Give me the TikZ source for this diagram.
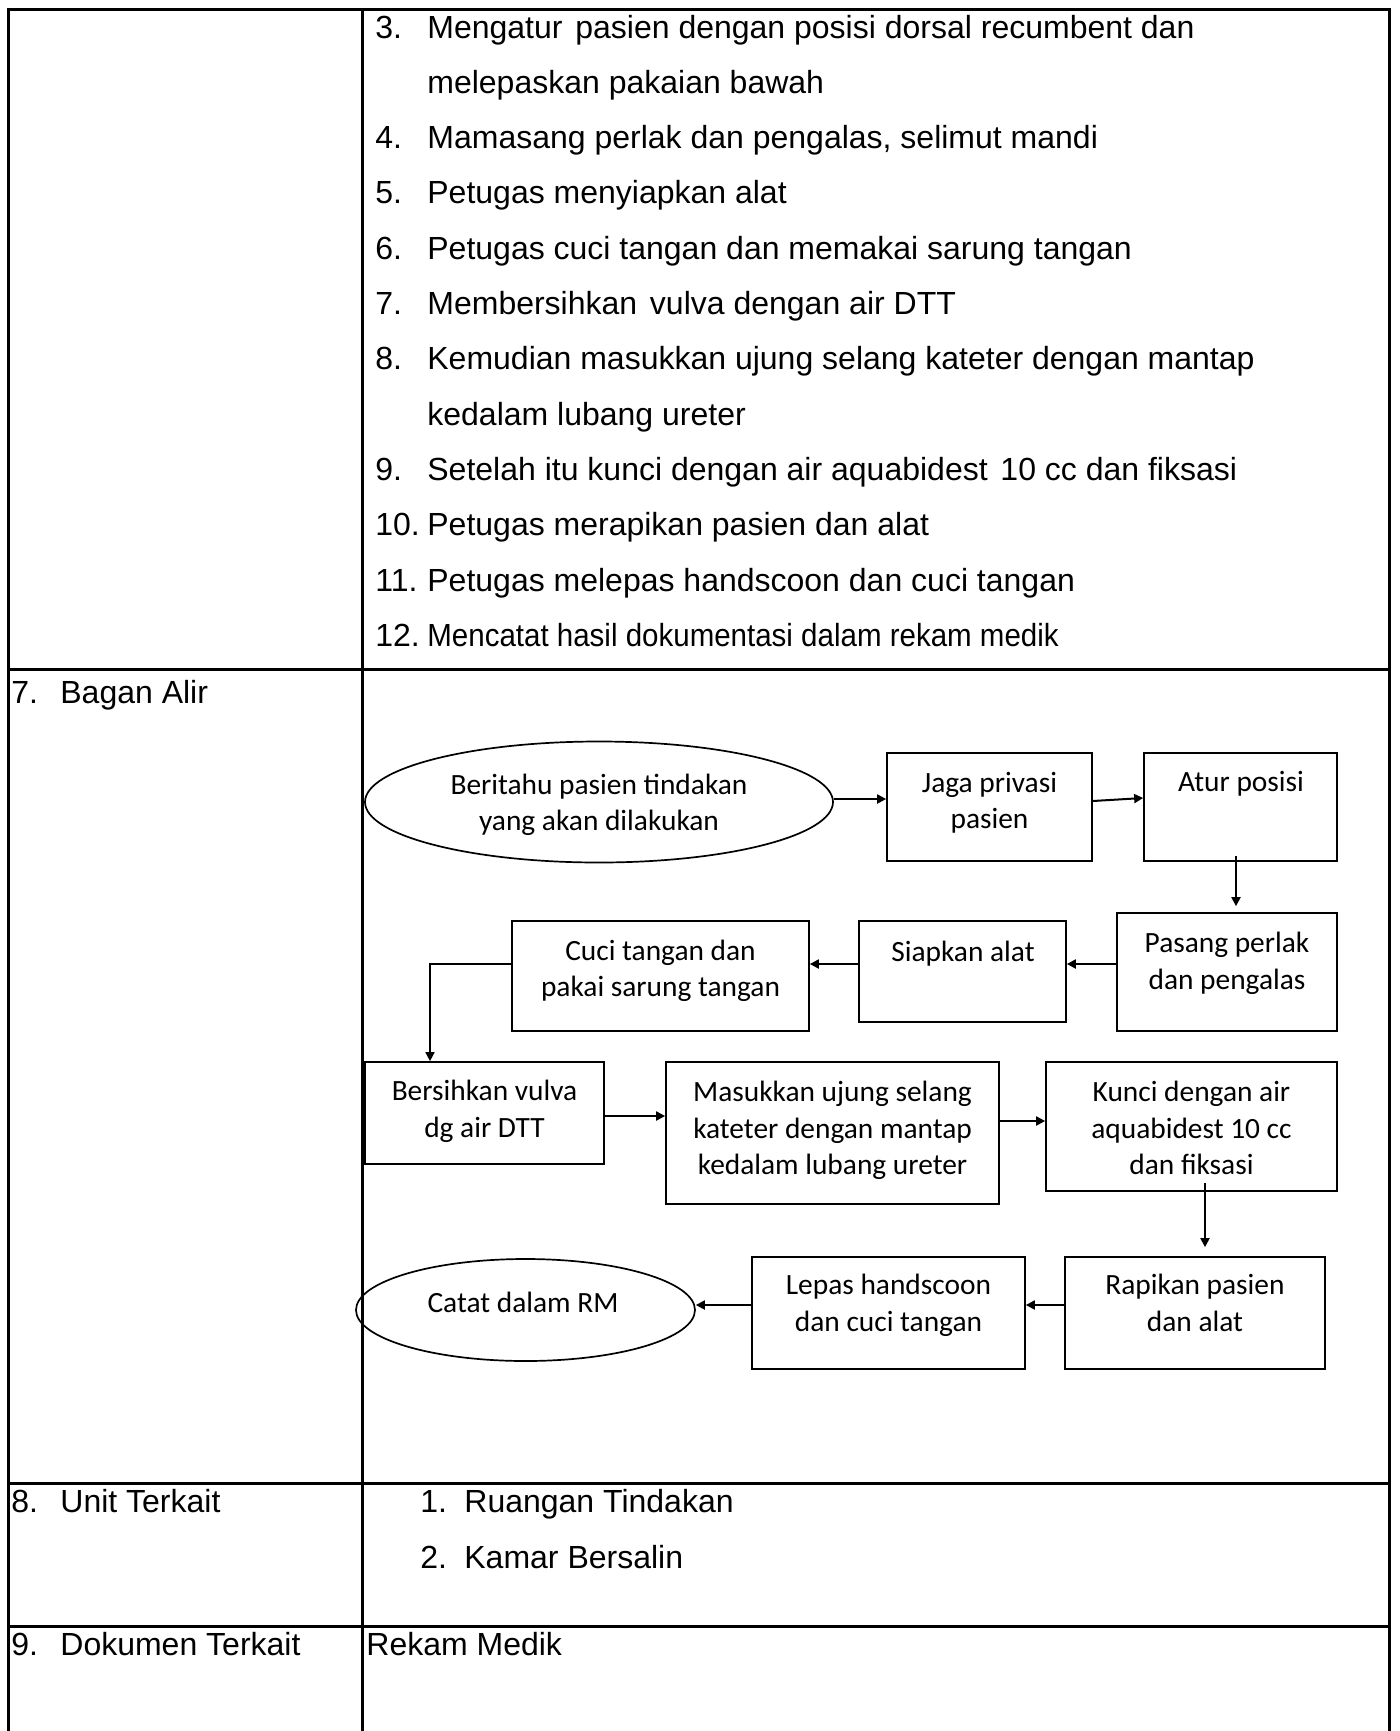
\documentclass[tikz,border=0pt]{standalone}
\usepackage{fontspec}
\setmainfont{Liberation Sans}
\newfontfamily\calib{Carlito}
\usetikzlibrary{shapes.geometric,arrows.meta}

\begin{document}
\begin{tikzpicture}[x=0.5pt,y=-0.5pt,
  grid/.style={line width=1.5pt},
  body/.style={font=\fontsize{16pt}{19pt}\selectfont, inner sep=0pt, anchor=base west},
  fc/.style={font=\calib\fontsize{14.7pt}{18.3pt}\selectfont, align=center, inner sep=0pt},
  box/.style={draw, line width=0.85pt, inner sep=0pt},
  oval/.style={draw, ellipse, line width=0.85pt, inner sep=0pt},
  arr/.style={-{Triangle[length=4.5pt,width=4.5pt]}, line width=1pt}]

\useasboundingbox (0,0) rectangle (1400,1731);

% table frame
\draw[grid] (8,1731) -- (8,9) -- (1389,9) -- (1389,1731);
\draw[grid] (362,9) -- (362,1731);
\draw[grid] (8,669) -- (1389,669);
\draw[grid] (8,1483) -- (1389,1483);
\draw[grid] (8,1626) -- (1389,1626);

% procedure steps (continued)
\node[body] (n3)  at (375,38) {3.};
\node[body] (t3)  at (427,38) {Mengatur\hspace{0.4em}pasien dengan posisi dorsal recumbent dan};
\node[body] (t3b) at (427,93.3) {melepaskan pakaian bawah};
\node[body] (n4)  at (375,148.6) {4.};
\node[body] (t4)  at (427,148.6) {Mamasang perlak dan pengalas, selimut mandi};
\node[body] (n5)  at (375,203.9) {5.};
\node[body] (t5)  at (427,203.9) {Petugas menyiapkan alat};
\node[body] (n6)  at (375,259.2) {6.};
\node[body] (t6)  at (427,259.2) {Petugas cuci tangan dan memakai sarung tangan};
\node[body] (n7)  at (375,314.5) {7.};
\node[body] (t7)  at (427,314.5) {Membersihkan\hspace{0.4em}vulva dengan air DTT};
\node[body] (n8)  at (375,369.8) {8.};
\node[body] (t8)  at (427,369.8) {Kemudian masukkan ujung selang kateter dengan mantap};
\node[body] (t8b) at (427,425.1) {kedalam lubang ureter};
\node[body] (n9)  at (375,480.4) {9.};
\node[body] (t9)  at (427,480.4) {Setelah itu kunci dengan air aquabidest\hspace{0.4em}10 cc dan fiksasi};
\node[body] (n10) at (375,535.7) {10.};
\node[body] (t10) at (427,535.7) {Petugas merapikan pasien dan alat};
\node[body] (n11) at (375,591) {11.};
\node[body] (t11) at (427,591) {Petugas melepas handscoon dan cuci tangan};
\node[body] (n12) at (375,646.3) {12.};
\node[body] (t12) at (427,646.3) {\scalebox{0.922}[1]{Mencatat hasil dokumentasi dalam rekam medik}};

% left column headings
\node[body] (h7n) at (11,703) {7.};
\node[body] (h7)  at (60,703) {Bagan Alir};
\node[body] (h8n) at (11,1512) {8.};
\node[body] (h8)  at (60,1512) {Unit Terkait};
\node[body] (h9n) at (11,1655) {9.};
\node[body] (h9)  at (60,1655) {Dokumen Terkait};

% related units and documents
\node[body] (u1n) at (420,1512) {1.};
\node[body] (u1)  at (464,1512) {Ruangan Tindakan};
\node[body] (u2n) at (420,1568) {2.};
\node[body] (u2)  at (464,1568) {Kamar Bersalin};
\node[body] (doc) at (366,1655) {Rekam Medik};

% flowchart shapes
\node[oval, minimum width=234pt, minimum height=60.5pt] (beri) at (599,802) {};
\node[box, minimum width=102.5pt, minimum height=54pt] (jaga) at (989.5,807) {};
\node[box, minimum width=96.5pt, minimum height=54pt] (atur) at (1240.5,807) {};
\node[box, minimum width=110pt, minimum height=59pt] (pasang) at (1227,972) {};
\node[box, minimum width=103.5pt, minimum height=50.5pt] (siap) at (962.5,971.5) {};
\node[box, minimum width=148.5pt, minimum height=55pt] (cuci) at (660.5,976) {};
\node[box, minimum width=119.5pt, minimum height=51pt] (bersih) at (484.5,1113) {};
\node[box, minimum width=166.5pt, minimum height=71pt] (masuk) at (832.5,1133) {};
\node[box, minimum width=145.5pt, minimum height=64.5pt] (kunci) at (1191.5,1126.5) {};
\node[box, minimum width=130pt, minimum height=56pt] (rapi) at (1195,1313) {};
\node[box, minimum width=136.5pt, minimum height=56pt] (lepas) at (888.5,1313) {};
\node[oval, minimum width=169.5pt, minimum height=51pt] (catat) at (525.5,1310) {};

% flowchart texts
\node[fc] (beriT)   at (599,805)    {\strut Beritahu pasien tindakan\\\strut yang akan dilakukan};
\node[fc] (jagaT)   at (989.5,803)  {\strut Jaga privasi\\\strut pasien};
\node[fc] (aturT)   at (1241,784)   {\strut Atur posisi};
\node[fc] (pasangT) at (1227,963.5) {\strut Pasang perlak\\\strut dan pengalas};
\node[fc] (siapT)   at (963,954)    {\strut Siapkan alat};
\node[fc] (cuciT)   at (660.5,971)  {\strut Cuci tangan dan\\\strut pakai sarung tangan};
\node[fc] (bersihT) at (484.5,1111.5) {\strut Bersihkan vulva\\\strut dg air DTT};
\node[fc] (masukT)  at (832.5,1131) {\strut Masukkan ujung selang\\\strut kateter dengan mantap\\\strut kedalam lubang ureter};
\node[fc] (kunciT)  at (1191.5,1131) {\strut Kunci dengan air\\\strut aquabidest 10 cc\\\strut dan fiksasi};
\node[fc] (rapiT)   at (1195,1305.5) {\strut Rapikan pasien\\\strut dan alat};
\node[fc] (lepasT)  at (888.5,1305.5) {\strut Lepas handscoon\\\strut dan cuci tangan};
\node[fc] (catatT)  at (523,1305)   {\strut Catat dalam RM};

% flowchart connectors
\draw[arr] ([yshift=1.5pt]beri.east) -- ([yshift=1.5pt]beri.east -| jaga.west);
\draw[arr] ([yshift=3pt]jaga.east) -- ([yshift=4.5pt]atur.west);
\draw[arr] ([xshift=-2.25pt,yshift=3pt]atur.south) -- ([xshift=-2.25pt,yshift=3pt]atur.south |- pasang.north);
\draw[arr] ([yshift=4pt]pasang.west) -- ([yshift=4pt]pasang.west -| siap.east);
\draw[arr] ([yshift=3.75pt]siap.west) -- ([yshift=3.75pt]siap.west -| cuci.east);
\draw[arr, line width=0.8pt] ([yshift=6pt]cuci.west) -| ([xshift=-27.25pt]bersih.north);
\draw[arr] ([yshift=-1.5pt]bersih.east) -- ([yshift=-1.5pt]bersih.east -| masuk.west);
\draw[arr] ([yshift=6pt]masuk.east) -- ([yshift=6pt]masuk.east -| kunci.west);
\draw[arr] ([xshift=6.75pt,yshift=4.5pt]kunci.south) -- ([xshift=6.75pt,yshift=4.5pt]kunci.south |- rapi.north);
\draw[arr] ([yshift=4pt]rapi.west) -- ([yshift=4pt]rapi.west -| lepas.east);
\draw[arr] ([yshift=4pt]lepas.west) -- ([yshift=2.5pt]catat.east);

\end{tikzpicture}
\end{document}
